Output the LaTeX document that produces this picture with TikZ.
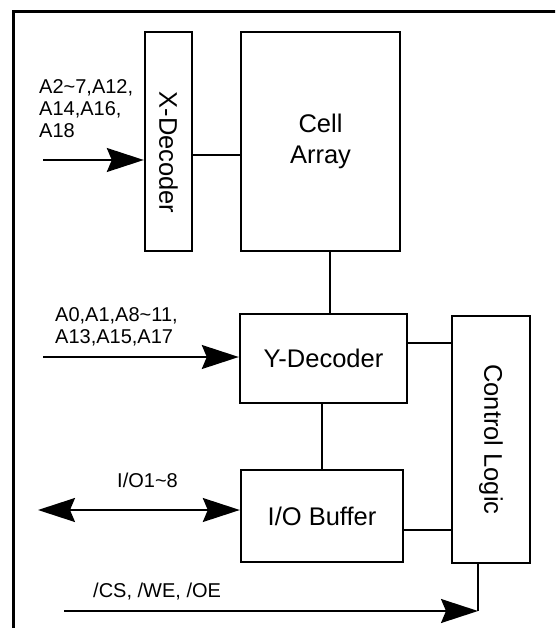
\documentclass[tikz,border=0pt]{standalone}
\usepackage{fontspec}
\setmainfont{Liberation Sans}
\usetikzlibrary{arrows.meta}

\begin{document}
\begin{tikzpicture}[
    x=1pt, y=-1pt,
    box/.style={draw, line width=2.4pt, inner sep=0pt, align=center, font=\fontsize{25.5}{31}\selectfont},
    lbl/.style={inner sep=0pt, align=left, font=\fontsize{20}{22}\selectfont},
    ln/.style={line width=1.8pt},
    arr/.style={->, line width=1.8pt, >={Stealth[length=37pt, width=24pt, inset=5pt]}},
    darr/.style={<->, line width=1.8pt, >={Stealth[length=37pt, width=24pt, inset=5pt]}}
]
\useasboundingbox (0,0) rectangle (555,628);
\clip (0,0) rectangle (555,628);

% outer frame (runs off the page right and bottom)
\draw[line width=2.4pt] (13.5,640) -- (13.5,11.5) -- (570,11.5);

% memory blocks
\node[box, minimum width=47pt, minimum height=219pt] (xdec) at (168.5, 141.5) {\rotatebox{-90}{\hspace{22pt}X-Decoder}};
\node[box, minimum width=159pt, minimum height=219pt] (cell) at (320.5, 141.5) {Cell\\Array};
\node[box, minimum width=167pt, minimum height=89pt] (ydec) at (323.5, 358.5) {Y-Decoder};
\node[box, minimum width=162pt, minimum height=92pt] (iobuf) at (322, 516) {I/O Buffer};
\node[box, minimum width=78pt, minimum height=247pt] (ctrl) at (491, 439.5) {\rotatebox{-90}{Control Logic}};

% internal links
\draw[ln] ([yshift=-13.5pt]xdec.east) -- ([yshift=-13.5pt]cell.west);
\draw[ln] ([xshift=9.5pt]cell.south) -- ([xshift=9.5pt]cell.south |- ydec.north);
\draw[ln] ([xshift=-1.5pt]ydec.south) -- ([xshift=-1.5pt]ydec.south |- iobuf.north);
\draw[ln] ([yshift=15.5pt]ydec.east) -- ([yshift=15.5pt]ydec.east -| ctrl.west);
\draw[ln] ([yshift=-14pt]iobuf.east) -- ([yshift=-14pt]iobuf.east -| ctrl.west);

% row address inputs
\coordinate (xin) at (43, 160);
\draw[arr] (xin) -- (xin -| xdec.west);
\node[lbl, anchor=base west] (xlbl) at (39, 138) {A2\textasciitilde7,A12,\\A14,A16,\\A18};

% column address inputs
\coordinate (yin) at (43, 357);
\draw[arr] (yin) -- (yin -| ydec.west);
\node[lbl, anchor=base west] (ylbl) at (55, 343) {A0,A1,A8\textasciitilde11,\\A13,A15,A17};

% data lines
\coordinate (ioin) at (38, 510);
\draw[darr] (ioin) -- (ioin -| iobuf.west);
\node[lbl, anchor=base] (iolbl) at (147.5, 487) {I/O1\textasciitilde8};

% control inputs
\coordinate (csin) at (64, 611);
\coordinate (csend) at (478, 611);
\draw[arr] (csin) -- (csend);
\draw[ln] (csend) -- (csend |- ctrl.south);
\node[lbl, anchor=base west] (cslbl) at (93, 597) {/CS, /WE, /OE};
\end{tikzpicture}
\end{document}
